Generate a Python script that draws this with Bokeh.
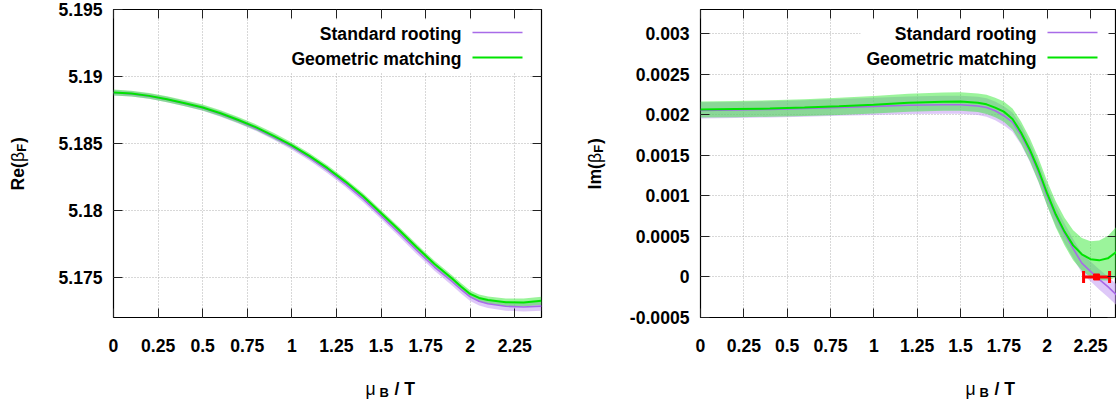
import math
from bokeh.plotting import figure
from bokeh.layouts import row, column
from bokeh.models import (Range1d, FixedTicker, LinearAxis, Label, Arrow,
                          BoxAnnotation, ColumnDataSource, PrintfTickFormatter)
from bokeh.embed import file_html
from bokeh.resources import INLINE

# ---------------- data ----------------
mu_re = [0.0, 0.1, 0.2, 0.3, 0.4, 0.5, 0.6, 0.7, 0.8, 0.9, 1.0, 1.1, 1.2, 1.3, 1.4,
         1.5, 1.6, 1.7, 1.8, 1.9, 1.95, 2.0, 2.05, 2.1, 2.2, 2.3, 2.4]
re_geometric = [5.18880, 5.18872, 5.18855, 5.18830, 5.18800, 5.18768, 5.18725, 5.18675,
                5.18620, 5.18555, 5.18485, 5.18405, 5.18315, 5.18215, 5.18105, 5.17980,
                5.17855, 5.17725, 5.17600, 5.17490, 5.17430, 5.17376, 5.17346, 5.17330,
                5.17314, 5.17312, 5.17325]
re_geometric_err = [0.00022, 0.00022, 0.00022, 0.00022, 0.00022, 0.00022, 0.00022, 0.00022,
                    0.00022, 0.00022, 0.00022, 0.00022, 0.00022, 0.00022, 0.00022, 0.00022,
                    0.00022, 0.00023, 0.00023, 0.00024, 0.00025, 0.00025, 0.00026, 0.00027,
                    0.00028, 0.00029, 0.00030]
re_standard = [5.18878, 5.18870, 5.18853, 5.18828, 5.18797, 5.18764, 5.18720, 5.18669,
               5.18612, 5.18546, 5.18474, 5.18392, 5.18300, 5.18198, 5.18086, 5.17960,
               5.17833, 5.17702, 5.17577, 5.17467, 5.17408, 5.17354, 5.17321, 5.17303,
               5.17284, 5.17278, 5.17285]
re_standard_err = [0.00020, 0.00020, 0.00020, 0.00020, 0.00020, 0.00020, 0.00020, 0.00020,
                   0.00020, 0.00020, 0.00021, 0.00022, 0.00023, 0.00024, 0.00025, 0.00025,
                   0.00026, 0.00027, 0.00028, 0.00029, 0.00030, 0.00030, 0.00031, 0.00032,
                   0.00033, 0.00034, 0.00035]

mu_im = [0.0, 0.2, 0.4, 0.6, 0.8, 1.0, 1.2, 1.4, 1.5, 1.6, 1.65, 1.7, 1.75, 1.8, 1.85,
         1.9, 1.95, 2.0, 2.05, 2.1, 2.15, 2.2, 2.25, 2.3, 2.35, 2.4]
im_geometric = [0.002066, 0.002072, 0.002078, 0.002090, 0.002105, 0.002124, 0.002150,
                0.002163, 0.002165, 0.002150, 0.002130, 0.002090, 0.002040, 0.001950,
                0.001780, 0.001570, 0.001320, 0.001030, 0.000770, 0.000560, 0.000390,
                0.000280, 0.000220, 0.000205, 0.000230, 0.000310]
im_geometric_err = [0.000100, 0.000100, 0.000102, 0.000104, 0.000106, 0.000108, 0.000110,
                    0.000112, 0.000113, 0.000115, 0.000118, 0.000120, 0.000125, 0.000130,
                    0.000135, 0.000140, 0.000145, 0.000150, 0.000160, 0.000170, 0.000185,
                    0.000200, 0.000220, 0.000245, 0.000275, 0.000310]
im_standard = [0.002055, 0.002060, 0.002068, 0.002078, 0.002092, 0.002105, 0.002118,
               0.002125, 0.002125, 0.002110, 0.002090, 0.002050, 0.001990, 0.001910,
               0.001750, 0.001540, 0.001290, 0.001000, 0.000750, 0.000540, 0.000350,
               0.000170, 0.000070, -0.000030, -0.000120, -0.000220]
im_standard_err = [0.000100, 0.000100, 0.000100, 0.000102, 0.000104, 0.000106, 0.000108,
                   0.000110, 0.000112, 0.000113, 0.000114, 0.000115, 0.000117, 0.000118,
                   0.000120, 0.000120, 0.000120, 0.000120, 0.000120, 0.000120, 0.000120,
                   0.000120, 0.000122, 0.000124, 0.000127, 0.000130]

# zero crossing estimate (red horizontal error bar)
zero_mu = [2.285]
zero_im = [0.0]
zero_mu_err = [0.075]

x_ticks = [0.0, 0.25, 0.5, 0.75, 1.0, 1.25, 1.5, 1.75, 2.0, 2.25]
x_tick_labels = ["0", "0.25", "0.5", "0.75", "1", "1.25", "1.5", "1.75", "2", "2.25"]
re_ticks = [5.175, 5.18, 5.185, 5.19, 5.195]
re_tick_labels = ["5.175", "5.18", "5.185", "5.19", "5.195"]
im_ticks = [-0.0005, 0.0, 0.0005, 0.001, 0.0015, 0.002, 0.0025, 0.003]
im_tick_labels = ["-0.0005", "0", "0.0005", "0.001", "0.0015", "0.002", "0.0025", "0.003"]

legend_labels = ["Standard rooting", "Geometric matching"]

# ---------------- style ----------------
FONT = "Liberation Sans"
FS = "17.6px"
SUB = "13px"
FH = 308
PURPLE_LINE = "#a86be8"
PURPLE_FILL = "#c39af2"
GREEN_LINE = "#00e400"
GREEN_FILL = "#2ee82e"
RED = "#ff0000"


def txt(p, x, y, text, size=FS, bold=True, angle=0.0, align="left", baseline="alphabetic"):
    p.add_layout(Label(x=x, y=y, x_units="screen", y_units="screen", text=text,
                       text_font=FONT, text_font_size=size,
                       text_font_style="bold" if bold else "normal",
                       text_color="black", angle=angle, text_align=align,
                       text_baseline=baseline))


def blank(w, h):
    f = figure(width=w, height=h, min_border=0, x_axis_type=None, y_axis_type=None,
               x_range=Range1d(0, 1), y_range=Range1d(0, 1),
               output_backend="svg", toolbar_location=None)
    f.outline_line_color = None
    f.background_fill_color = "white"
    f.border_fill_color = "white"
    return f


def panel(fw, bl, br, yr, yt, ytl, xs, geo, geo_e, std, std_e):
    p = figure(frame_width=fw, frame_height=FH, min_border_left=bl, min_border_right=br,
               min_border_top=9, min_border_bottom=45,
               x_range=Range1d(0, 2.4), y_range=Range1d(*yr),
               output_backend="svg", toolbar_location=None)
    p.outline_line_color = "black"
    p.outline_line_width = 1.2
    p.background_fill_color = "white"
    p.border_fill_color = "white"

    for ax, ticks, labels in ((p.xaxis[0], x_ticks, x_tick_labels), (p.yaxis[0], yt, ytl)):
        ax.ticker = FixedTicker(ticks=ticks)
        ax.formatter = PrintfTickFormatter(format="%g")
        ax.major_label_overrides = dict(zip(ticks, labels))
        ax.major_tick_in = 9
        ax.major_tick_out = 0
        ax.minor_tick_line_color = None
        ax.axis_line_color = None
        ax.major_tick_line_color = "#222222"
        ax.major_label_text_font = FONT
        ax.major_label_text_font_size = FS
        ax.major_label_text_font_style = "bold"
        ax.major_label_text_color = "black"
    p.xaxis.major_label_standoff = 21
    p.yaxis.major_label_standoff = 11

    # mirrored inward ticks on top and right (no labels)
    for loc, ticks in (("above", x_ticks), ("right", yt)):
        ax = LinearAxis(ticker=FixedTicker(ticks=ticks), major_tick_in=9, major_tick_out=0,
                        minor_tick_line_color=None, axis_line_color=None,
                        major_tick_line_color="#222222", major_label_text_font_size="0px",
                        major_label_text_color=None, major_label_standoff=0)
        p.add_layout(ax, loc)

    p.xgrid.ticker = FixedTicker(ticks=x_ticks)
    p.ygrid.ticker = FixedTicker(ticks=yt)
    for g in (p.xgrid, p.ygrid):
        g.grid_line_color = "#b0b0b0"
        g.grid_line_dash = "1 2"
        g.grid_line_width = 1

    lo_s = [v - e for v, e in zip(std, std_e)]
    hi_s = [v + e for v, e in zip(std, std_e)]
    lo_g = [v - e for v, e in zip(geo, geo_e)]
    hi_g = [v + e for v, e in zip(geo, geo_e)]
    p.varea(x=xs, y1=lo_s, y2=hi_s, fill_color=PURPLE_FILL, fill_alpha=0.55)
    p.varea(x=xs, y1=lo_g, y2=hi_g, fill_color=GREEN_FILL, fill_alpha=0.48)
    p.line(xs, std, line_color=PURPLE_LINE, line_width=1.6)
    p.line(xs, geo, line_color=GREEN_LINE, line_width=2)

    # legend (gnuplot style: text right-aligned, sample on the right, opaque box)
    p.add_layout(BoxAnnotation(left=fw - 256, right=fw - 8, bottom=FH - 63, top=FH - 10,
                               left_units="screen", right_units="screen",
                               bottom_units="screen", top_units="screen",
                               fill_color="white", fill_alpha=1.0, line_color=None))
    for i, (lab, col, lw) in enumerate(zip(legend_labels, [PURPLE_LINE, GREEN_LINE], [1.6, 2])):
        yy = FH - 24 - 25 * i
        txt(p, fw - 80, yy, lab, align="right", baseline="middle")
        p.add_layout(Arrow(end=None, x_start=fw - 69, y_start=yy + 1, x_end=fw - 19,
                           y_end=yy + 1, start_units="screen", end_units="screen",
                           line_color=col, line_width=lw))
    return p


def ylabel_fig(w, h, bx, by, main, main_w):
    f = blank(w, h)
    a = math.pi / 2
    txt(f, bx, by, main, angle=a)
    txt(f, bx, by + main_w, "β", bold=False, angle=a)
    txt(f, bx + 4, by + main_w + 10.4, "F", size=SUB, angle=a)
    txt(f, bx, by + main_w + 19.0, ")", angle=a)
    return f


def xlabel_fig(w, h, x0):
    f = blank(w, h)
    txt(f, x0, 14, "μ", bold=False)
    txt(f, x0 + 14, 10, "B", size=SUB)
    txt(f, x0 + 29, 14, "/ T")
    return f


# left panel: page x 0..50 y-label, 50..559 plot (frame 113..541)
p1 = panel(428, 63, 18, (5.172, 5.195), re_ticks, re_tick_labels,
           mu_re, re_geometric, re_geometric_err, re_standard, re_standard_err)
yl1 = ylabel_fig(50, 402, 17, 212, "Re(", 28.4)
xl1 = xlabel_fig(509, 40, 252)

# right panel: page x 559..619 y-label, 619.. plot (frame 700..1116)
p2 = panel(416, 81, 0, (-0.0005, 0.0033), im_ticks, im_tick_labels,
           mu_im, im_geometric, im_geometric_err, im_standard, im_standard_err)
yl2 = ylabel_fig(60, 402, 35, 213, "Im(", 26.4)
xl2 = xlabel_fig(497, 40, 265)

src = ColumnDataSource(data=dict(
    x=zero_mu, y=zero_im,
    lo=[m - e for m, e in zip(zero_mu, zero_mu_err)],
    hi=[m + e for m, e in zip(zero_mu, zero_mu_err)]))
p2.segment(x0="lo", y0="y", x1="hi", y1="y", source=src, line_color=RED, line_width=3)
for end in ("lo", "hi"):
    p2.scatter(x=end, y="y", source=src, marker="dash", angle=math.pi / 2, size=12,
               line_color=RED, line_width=3)
p2.scatter(x="x", y="y", source=src, marker="square", size=6, color=RED)

layout = row(yl1, column(p1, xl1, spacing=0), yl2, column(p2, xl2, spacing=0), spacing=0)
open("out.html", "w").write(file_html(layout, INLINE))
